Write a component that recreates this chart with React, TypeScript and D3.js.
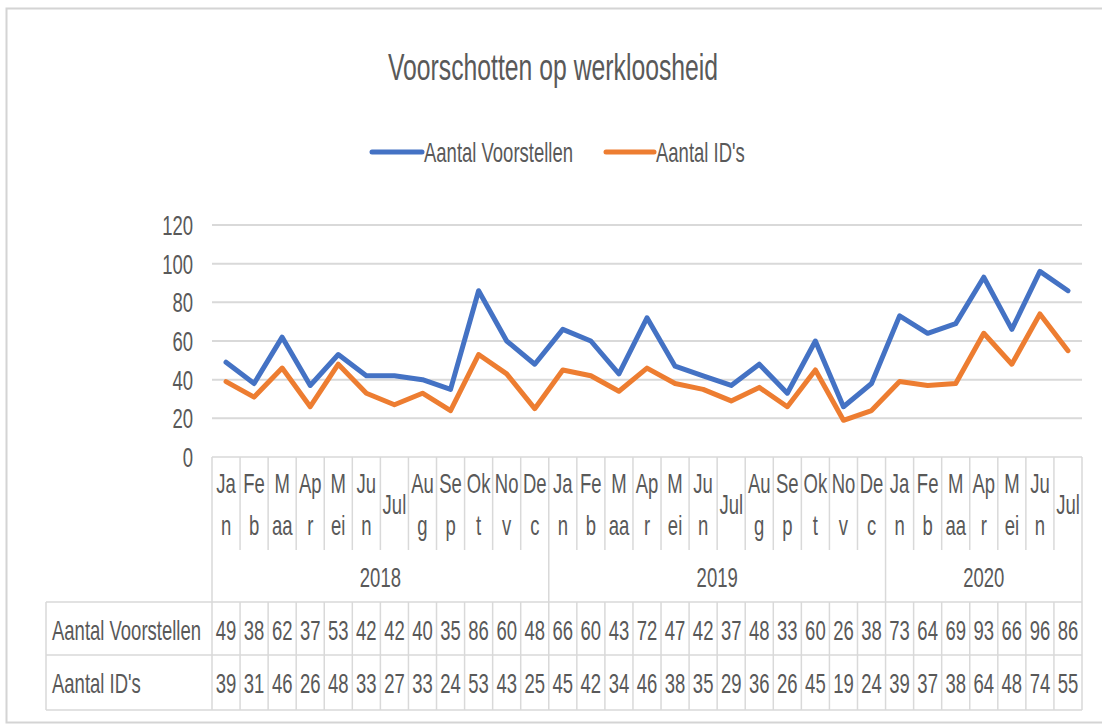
import React from "react";
import * as d3 from "d3";

const title = "Voorschotten op werkloosheid";
const seriesNames = ["Aantal Voorstellen", "Aantal ID's"];
const seriesColors = ["#4472C4", "#ED7D31"];

const monthLines: string[][] = [
  ["Ja", "n"], ["Fe", "b"], ["M", "aa"], ["Ap", "r"], ["M", "ei"], ["Ju", "n"],
  ["Jul"], ["Au", "g"], ["Se", "p"], ["Ok", "t"], ["No", "v"], ["De", "c"],
];
const years = ["2018", "2019", "2020"];
const monthsPerYear = [12, 12, 7];

const voorstellen = [49, 38, 62, 37, 53, 42, 42, 40, 35, 86, 60, 48, 66, 60, 43, 72, 47, 42, 37, 48, 33, 60, 26, 38, 73, 64, 69, 93, 66, 96, 86];
const ids = [39, 31, 46, 26, 48, 33, 27, 33, 24, 53, 43, 25, 45, 42, 34, 46, 38, 35, 29, 36, 26, 45, 19, 24, 39, 37, 38, 64, 48, 74, 55];
const yTicks = [0, 20, 40, 60, 80, 100, 120];

const SX = 0.66;
const FONT = "'Liberation Sans', Arial, sans-serif";
const TXT = "#595959";
const GRID = "#d9d9d9";

function T({ x, y, size = 28, anchor = "middle", children }: any) {
  return (
    <text
      transform={`translate(${x},${y}) scale(${SX},1)`}
      textAnchor={anchor}
      fontSize={size}
      fontFamily={FONT}
      fill={TXT}
    >
      {children}
    </text>
  );
}

export default function App() {
  const n = voorstellen.length;
  const cats = d3.range(n).map(String);
  const x = d3.scaleBand<string>().domain(cats).range([212, 1082]).padding(0);
  const y = d3.scaleLinear().domain([0, 120]).range([457, 225]);
  const cx = (i: number) => (x(String(i)) as number) + x.bandwidth() / 2;

  const line = d3
    .line<number>()
    .x((_, i) => cx(i))
    .y((d) => y(d));

  // year boundaries
  const yearStarts: number[] = [];
  let acc = 0;
  monthsPerYear.forEach((c) => {
    yearStarts.push(acc);
    acc += c;
  });
  const edge = (i: number) => (i >= n ? x.range()[1] : (x(String(i)) as number));

  const tableLeft = 46;
  const catTop = 457;
  const monthBottom = 550;
  const yearBottom = 602;
  const row1Bottom = 655;
  const row2Bottom = 710;
  const plotRight = x.range()[1];
  const plotLeft = x.range()[0];

  return (
    <svg
      width={1102}
      height={725}
      style={{ position: "absolute", left: 0, top: 0, background: "#fff" }}
    >
      <rect x={6.5} y={8.5} width={1110} height={714} fill="#fff" stroke="#d4d4d4" strokeWidth={2} />

      {/* title */}
      <T x={553} y={80} size={37.5}>{title}</T>

      {/* legend */}
      {[
        { x1: 372, x2: 422, tx: 424 },
        { x1: 606, x2: 654, tx: 656 },
      ].map((l, k) => (
        <g key={k}>
          <line x1={l.x1} x2={l.x2} y1={152} y2={152} stroke={seriesColors[k]} strokeWidth={5} strokeLinecap="round" />
          <T x={l.tx} y={162} anchor="start">{seriesNames[k]}</T>
        </g>
      ))}

      {/* gridlines */}
      {yTicks.filter((t) => t > 0).map((t) => (
        <line key={t} x1={plotLeft} x2={plotRight} y1={y(t)} y2={y(t)} stroke={GRID} strokeWidth={2} />
      ))}
      {yTicks.map((t) => (
        <T key={t} x={193} y={y(t) + 10} anchor="end">{t}</T>
      ))}

      {/* category axis table */}
      <g stroke={GRID} strokeWidth={1.5}>
        <line x1={plotLeft} x2={plotRight} y1={catTop} y2={catTop} />
        <line x1={tableLeft} x2={plotRight} y1={yearBottom} y2={yearBottom} />
        <line x1={tableLeft} x2={plotRight} y1={row1Bottom} y2={row1Bottom} />
        <line x1={tableLeft} x2={plotRight} y1={row2Bottom} y2={row2Bottom} />
        <line x1={tableLeft} x2={tableLeft} y1={yearBottom} y2={row2Bottom} />
        {d3.range(n + 1).map((i) => {
          const isYear = i === n || yearStarts.includes(i);
          const xx = edge(i);
          return (
            <g key={i}>
              <line x1={xx} x2={xx} y1={isYear ? catTop : catTop} y2={isYear ? row2Bottom : monthBottom} />
              {!isYear && <line x1={xx} x2={xx} y1={yearBottom} y2={row2Bottom} />}
            </g>
          );
        })}
      </g>

      {/* month labels */}
      {d3.range(n).map((i) => {
        const lines = monthLines[i % 12];
        if (lines.length === 1) return <T key={i} x={cx(i)} y={514}>{lines[0]}</T>;
        return (
          <g key={i}>
            <T x={cx(i)} y={493}>{lines[0]}</T>
            <T x={cx(i)} y={535}>{lines[1]}</T>
          </g>
        );
      })}
      {years.map((yr, k) => {
        const s = yearStarts[k];
        const e = s + monthsPerYear[k];
        return <T key={yr} x={(edge(s) + edge(e)) / 2} y={587}>{yr}</T>;
      })}

      {/* data table */}
      <T x={52} y={640} anchor="start">{seriesNames[0]}</T>
      <T x={52} y={693} anchor="start">{seriesNames[1]}</T>
      {voorstellen.map((v, i) => (
        <T key={"a" + i} x={cx(i)} y={640}>{v}</T>
      ))}
      {ids.map((v, i) => (
        <T key={"b" + i} x={cx(i)} y={693}>{v}</T>
      ))}

      {/* lines */}
      {[voorstellen, ids].map((s, k) => (
        <path
          key={k}
          d={line(s) as string}
          fill="none"
          stroke={seriesColors[k]}
          strokeWidth={5}
          strokeLinejoin="round"
          strokeLinecap="round"
        />
      ))}
    </svg>
  );
}
